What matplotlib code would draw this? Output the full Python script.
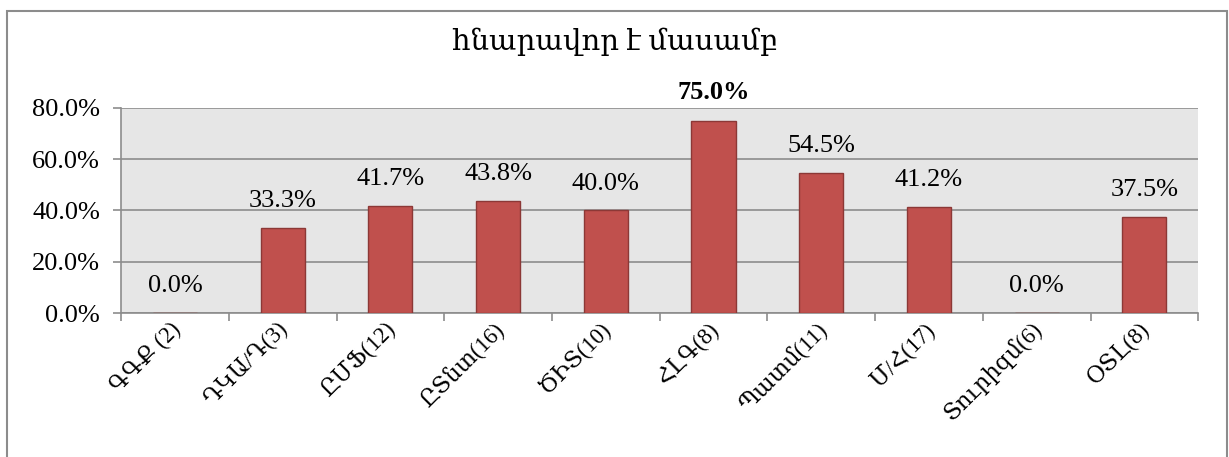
import numpy as np
import matplotlib.pyplot as plt
from matplotlib.patches import Rectangle
from matplotlib.ticker import FuncFormatter

plt.rcParams['font.family'] = ['Liberation Serif', 'DejaVu Serif']

# data
groups = ['ԳԳՔ (2)', 'ԴԿԱ/Դ(3)', 'ԸՄՖ(12)', 'ԸՏնտ(16)', 'ԾԻՏ(10)',
          'ՀԼԳ(8)', 'Պատմ(11)', 'Մ/Հ(17)', 'Տուրիզմ(6)', 'ՕՏԼ(8)']
share = [0.0, 33.3, 41.7, 43.8, 40.0, 75.0, 54.5, 41.2, 0.0, 37.5]
title = 'հնարավոր է մասամբ'

fig = plt.figure(figsize=(12.29, 4.57), dpi=100)
ax = fig.add_axes([0.0985, 0.315, 0.8765, 0.449])

x = np.arange(len(groups))
ax.bar(x, share, width=0.41, color='#C0504D', edgecolor='#8C3836', linewidth=1, zorder=3)

ax.set_xlim(-0.5, len(groups) - 0.5)
ax.set_ylim(0, 80)
ax.set_yticks([0, 20, 40, 60, 80])
ax.yaxis.set_major_formatter(FuncFormatter(lambda v, p: f'{v:.1f}%'))
ax.set_facecolor('#E6E6E6')
ax.grid(axis='y', color='#8C8C8C', linewidth=1.2, zorder=1)
for s in ['top', 'right']:
    ax.spines[s].set_visible(False)
for s in ['left', 'bottom']:
    ax.spines[s].set_color('#8C8C8C')
    ax.spines[s].set_linewidth(1.2)

ax.set_xticks(np.arange(len(groups) + 1) - 0.5, minor=False)
ax.set_xticklabels([])
ax.tick_params(axis='x', length=6, color='#8C8C8C', width=1.2)
ax.tick_params(axis='y', length=6, color='#8C8C8C', width=1.2, labelsize=19, pad=9)

for i, g in enumerate(groups):
    ax.text(i + 0.02, -5, g, rotation=45, rotation_mode='anchor', ha='right', va='center',
            fontsize=16.5, transform=ax.transData, clip_on=False)

for i, v in enumerate(share):
    if v == max(share):
        ax.text(i, v + 11, f'{v:.1f}%', ha='center', va='center', fontsize=19,
                fontweight='bold', clip_on=False)
    else:
        ax.text(i, v + 10.5, f'{v:.1f}%', ha='center', va='center', fontsize=19)

fig.text(0.5, 0.908, title, ha='center', va='center', fontsize=21)

fig.patches.append(Rectangle((7 / 1229, -0.1), 1220 / 1229, 1.1 - 11 / 457,
                             transform=fig.transFigure, fill=False,
                             edgecolor='#8C8C8C', linewidth=1.5))

fig.savefig('out.png', dpi=100)
